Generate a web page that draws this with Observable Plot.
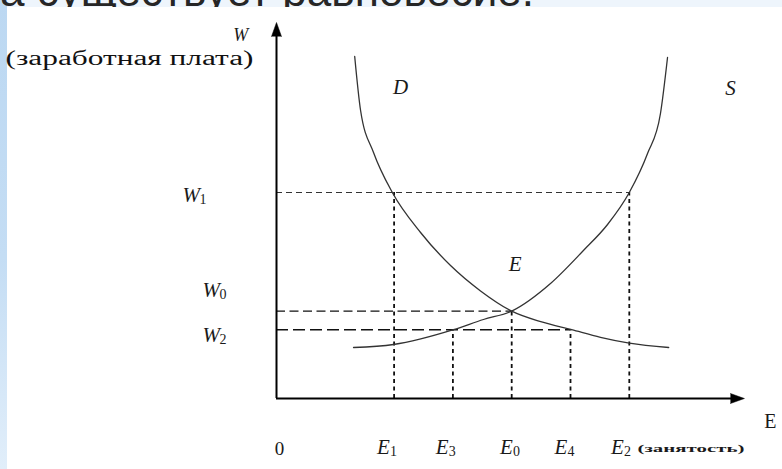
<!DOCTYPE html>
<html>
<head>
<meta charset="utf-8">
<script src="https://cdn.jsdelivr.net/npm/d3@7"></script>
<script src="https://cdn.jsdelivr.net/npm/@observablehq/plot@0.6"></script>
<style>
html, body { margin: 0; padding: 0; width: 782px; height: 469px; overflow: hidden; background: #eef5fc; }
#stage { position: relative; width: 782px; height: 469px; overflow: hidden; }
#strip { position: absolute; left: 0; top: 0; width: 7px; height: 469px;
  background: linear-gradient(#bcd8f2, #c4ddf4 55%, #e1eefa); }
#title { position: absolute; left: 0; top: -31px; font: 44px "Liberation Sans", sans-serif;
  color: #262626; white-space: nowrap; line-height: 1; }
#panel { position: absolute; left: 7px; top: 7px; width: 775px; height: 462px; background: #fff; }
#chart { position: absolute; left: 0; top: 0; }
</style>
</head>
<body>
<div id="stage">
  <div id="strip"></div>
  <div id="title">а существует равновесие.</div>
  <div id="panel"></div>
  <div id="chart"></div>
</div>
<script>
// Demand curve D (employment E, wage W)
const demandE = [1.33, 1.43, 1.65, 1.97, 2.45, 2.96, 3.47, 4.0, 4.51, 5.02, 5.51, 6.0, 6.67];
const demandW = [17.1, 14.4, 12.3, 10.3, 8.3, 6.65, 5.38, 4.37, 3.83, 3.44, 3.06, 2.77, 2.55];
// Supply curve S
const supplyE = [1.31, 1.99, 3.01, 3.52, 4.0, 4.66, 5.22, 5.63, 6.0, 6.31, 6.53, 6.65];
const supplyW = [2.55, 2.7, 3.44, 3.95, 4.37, 5.75, 7.4, 8.7, 10.3, 12.25, 14.25, 17.05];

// Wage levels (horizontal guides)
const wNames = ["W", "W", "W"];
const wSubs = ["1", "0", "2"];
const wValues = [10.3, 4.37, 3.44];
const wEnds = [6, 4, 5];
const wLabelX = [-1.6, -1.26, -1.26];
const wLabelY = [10.15, 5.4, 3.15];

// Employment levels (vertical guides)
const eNames = ["E", "E", "E", "E", "E"];
const eSubs = ["1", "3", "0", "4", "2"];
const eValues = [2, 3, 4, 5, 6];
const eTops = [10.3, 3.44, 4.37, 3.44, 10.3];
const eLabelX = [1.71, 2.71, 3.8, 4.73, 5.69];
const eLabelY = -2.45;

// Curve / point labels
const curveLabels = ["D", "S", "E"];
const curveLabelX = [2.11, 7.72, 4.06];
const curveLabelY = [15.55, 15.5, 6.7];

const axisTitleY = "(заработная плата)";
const axisTitleX = "(занятость)";

const demand = demandE.map((e, i) => ({e, w: demandW[i]}));
const supply = supplyE.map((e, i) => ({e, w: supplyW[i]}));
const hLines = wValues.map((w, i) => ({w, e: wEnds[i], i}));
const vLines = eValues.map((e, i) => ({e, w: eTops[i]}));
const wLabels = wNames.map((t, i) => ({t, s: wSubs[i], x: wLabelX[i], y: wLabelY[i]}));
const eLabels = eNames.map((t, i) => ({t, s: eSubs[i], x: eLabelX[i], y: eLabelY}));
const cLabels = curveLabels.map((t, i) => ({t, x: curveLabelX[i], y: curveLabelY[i]}));

const serif = "Liberation Serif";
const ink = "#1a1a1a";

const chart = Plot.plot({
  width: 782,
  height: 469,
  margin: 0,
  style: {background: "transparent", overflow: "visible"},
  x: {domain: [0, 8], range: [276, 746.4], axis: null},
  y: {domain: [0, 19], range: [398, 18], axis: null},
  marks: [
    // horizontal dashed guides
    Plot.ruleY(hLines.filter(d => d.i === 0), {y: "w", x1: d => 0, x2: "e", stroke: "#333", strokeWidth: 1, strokeDasharray: "6,4"}),
    Plot.ruleY(hLines.filter(d => d.i === 1), {y: "w", x1: d => 0, x2: "e", stroke: "#111", strokeWidth: 1.4, strokeDasharray: "9,4.5"}),
    Plot.ruleY(hLines.filter(d => d.i === 2), {y: "w", x1: d => 0, x2: "e", stroke: "#111", strokeWidth: 1.4, strokeDasharray: "12,5"}),
    // vertical dotted guides
    Plot.ruleX(vLines, {x: "e", y1: d => 0, y2: "w", stroke: "#111", strokeWidth: 1.8, strokeDasharray: "4,3.5"}),
    // curves
    Plot.line(demand, {x: "e", y: "w", curve: "monotone-x", stroke: "#333", strokeWidth: 1.3}),
    Plot.line(supply, {x: "e", y: "w", curve: "monotone-x", stroke: "#333", strokeWidth: 1.3}),
    // axes
    Plot.ruleX([0], {y1: d => 0, y2: d => 18.2, stroke: "#000", strokeWidth: 2}),
    Plot.ruleY([0], {x1: d => 0, x2: d => 7.74, stroke: "#000", strokeWidth: 2}),
    Plot.vector([0], {x: d => 0, y: d => 18.1, length: 14, rotate: 0, shape: "spike", r: 5, anchor: "start", fill: "#000", stroke: "#000", strokeWidth: 0.5}),
    Plot.vector([0], {x: d => 7.72, y: d => 0, length: 14, rotate: 90, shape: "spike", r: 5, anchor: "start", fill: "#000", stroke: "#000", strokeWidth: 0.5}),
    // wage labels
    Plot.text(wLabels, {x: "x", y: "y", text: "t", textAnchor: "start", fontFamily: serif, fontStyle: "italic", fontSize: 21, fill: ink}),
    Plot.text(wLabels, {x: "x", y: "y", text: "s", textAnchor: "start", dx: 17, dy: 4, fontFamily: serif, fontSize: 14, fill: ink}),
    // employment labels
    Plot.text(eLabels, {x: "x", y: "y", text: "t", textAnchor: "start", fontFamily: serif, fontStyle: "italic", fontSize: 21, fill: ink}),
    Plot.text(eLabels, {x: "x", y: "y", text: "s", textAnchor: "start", dx: 13, dy: 4, fontFamily: serif, fontSize: 14, fill: ink}),
    // curve labels
    Plot.text(cLabels, {x: "x", y: "y", text: "t", fontFamily: serif, fontStyle: "italic", fontSize: 21, fill: ink}),
    // axis titles
    Plot.text(["W"], {x: d => -0.61, y: d => 18.15, text: d => d, fontFamily: serif, fontStyle: "italic", fontSize: 18, fill: ink}),
    Plot.text([axisTitleY], {x: d => -2.5, y: d => 17.0, text: d => d, fontFamily: serif, fontSize: 20, fill: "#111", className: "stretch-y"}),
    Plot.text(["0"], {x: d => 0.05, y: d => -2.5, text: d => d, fontFamily: serif, fontSize: 19, fill: ink}),
    Plot.text([axisTitleX], {x: d => 6.14, y: d => -2.5, text: d => d, textAnchor: "start", fontFamily: serif, fontWeight: "bold", fontSize: 11, fill: ink, className: "stretch-x"}),
    Plot.text(["E"], {x: d => 8.4, y: d => -1.15, text: d => d, fontFamily: serif, fontSize: 20, fill: ink})
  ]
});

chart.querySelectorAll(".stretch-y text").forEach(t => { t.setAttribute("textLength", 248); t.setAttribute("lengthAdjust", "spacingAndGlyphs"); });
chart.querySelectorAll(".stretch-x text").forEach(t => { t.setAttribute("textLength", 107); t.setAttribute("lengthAdjust", "spacingAndGlyphs"); });

document.getElementById("chart").appendChild(chart);
</script>
</body>
</html>
